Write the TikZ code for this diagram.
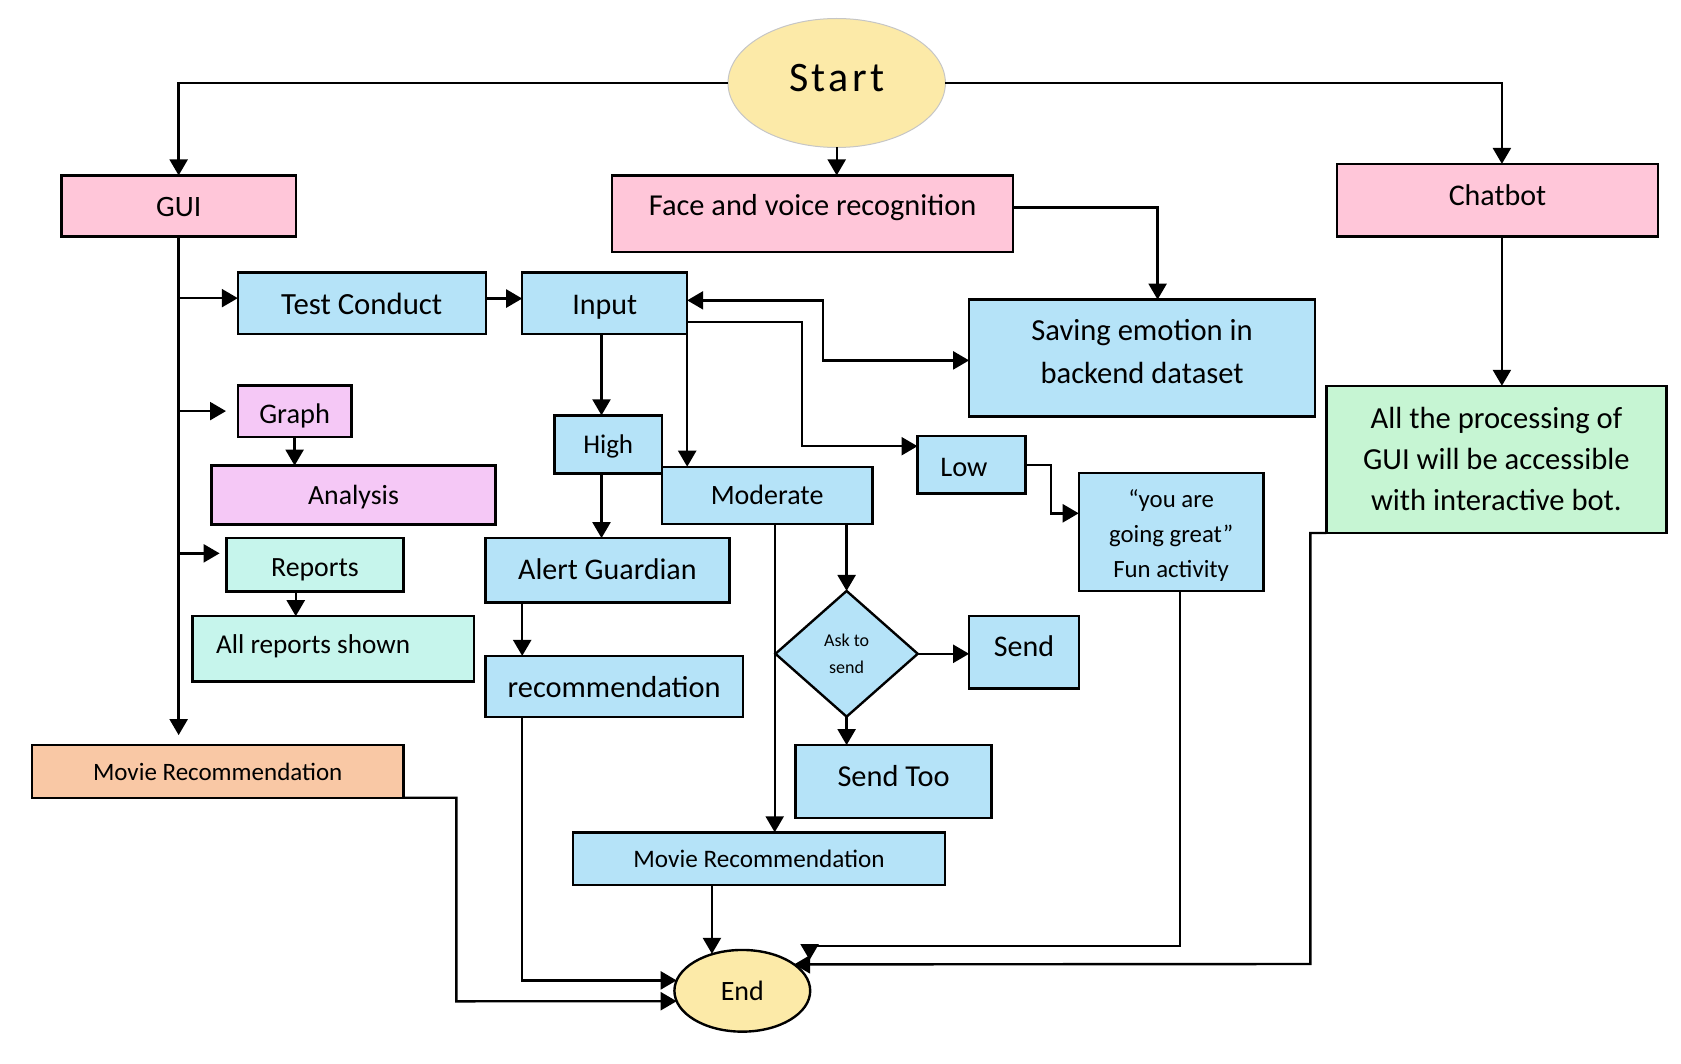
\documentclass[tikz,border=0pt]{standalone}
\usepackage{fontspec}
\setmainfont{Carlito}
\usetikzlibrary{arrows.meta,shapes.geometric}
\definecolor{cpink}{HTML}{FFC6D9}
\definecolor{cyel}{HTML}{FCEAA8}
\definecolor{cblue}{HTML}{B5E3F8}
\definecolor{clav}{HTML}{F5C8F6}
\definecolor{cmint}{HTML}{C6F5EC}
\definecolor{cpeach}{HTML}{F9C8A5}
\definecolor{cgreen}{HTML}{C6F5D3}
\newcommand\rtxt[2]{\raisebox{#1}[0pt][0pt]{#2}}
\newcommand\rtab[2]{\raisebox{#1}[0pt][0pt]{\begin{tabular}[t]{@{}c@{}}#2\end{tabular}}}
\tikzset{
  box/.style={draw, line width=1.2pt, inner sep=0pt, outer sep=0pt, align=center},
  arr/.style={line width=1.2pt, -{Triangle[length=8pt,width=9pt]}},
  arrtwo/.style={line width=1.2pt, {Triangle[length=8pt,width=9pt]}-{Triangle[length=8pt,width=9pt]}},
}
\begin{document}
\begin{tikzpicture}[x=0.5pt,y=-0.5pt]
\useasboundingbox (0,0) rectangle (1681,1064);
% terminals
\node[ellipse, draw=gray!45, line width=0.5pt, fill=cyel, minimum width=108.7pt, minimum height=64.5pt, inner sep=0pt, outer sep=0pt,
  font=\fontsize{21}{25}\selectfont\addfontfeature{LetterSpace=8}] (start) at (836.7,83) {\rtxt{-4.3pt}{Start}};
\node[ellipse, draw, line width=1.2pt, fill=cyel, minimum width=67.9pt, minimum height=40.85pt, inner sep=0pt, outer sep=0pt,
  font=\fontsize{14}{17}\selectfont] (end) at (742.3,990.8) {\rtxt{-4.6pt}{End}};
% top row
\node[box, fill=cpink, minimum width=117.05pt, minimum height=30.55pt, font=\fontsize{14.8}{17}\selectfont] (gui) at (178.65,205.95) {\rtxt{-5.4pt}{GUI}};
\node[box, fill=cpink, minimum width=200.4pt, minimum height=38.2pt, font=\fontsize{15.2}{18}\selectfont] (face) at (812.6,213.6) {\rtxt{-1.2pt}{Face and voice recognition}};
\node[box, fill=cpink, minimum width=160.45pt, minimum height=36.3pt, font=\fontsize{15}{18}\selectfont] (chat) at (1497.5,200.2) {\rtxt{-2.55pt}{Chatbot}};
% second level
\node[box, fill=cblue, minimum width=124pt, minimum height=30.85pt, font=\fontsize{15.4}{18}\selectfont] (test) at (361.8,303.35) {\rtxt{-5.6pt}{Test Conduct}};
\node[box, fill=cblue, minimum width=82.5pt, minimum height=30.85pt, font=\fontsize{15}{18}\selectfont] (input) at (604.7,303.35) {\rtxt{-5.6pt}{Input}};
\node[box, fill=cblue, minimum width=173pt, minimum height=58.35pt, font=\fontsize{15.3}{21.2}\selectfont] (sav) at (1142.1,357.95) {\rtab{8.5pt}{Saving emotion in\\backend dataset}};
\node[box, fill=cgreen, minimum width=170.1pt, minimum height=73.6pt, font=\fontsize{15.3}{20.35}\selectfont] (green) at (1496.4,459.4) {\rtab{15.3pt}{All the processing of\\GUI will be accessible\\with interactive bot.}};
% GUI branch
\node[box, fill=clav, minimum width=56.8pt, minimum height=25.6pt, font=\fontsize{14.2}{16}\selectfont] (graph) at (294.6,411.1) {\rtxt{-6pt}{Graph}};
\node[box, fill=clav, minimum width=141.9pt, minimum height=29.35pt, font=\fontsize{13.9}{16}\selectfont] (ana) at (353.5,494.95) {\rtxt{-4.8pt}{Analysis}};
\node[box, fill=cmint, minimum width=88.35pt, minimum height=26.65pt, font=\fontsize{13.9}{16}\selectfont] (reports) at (314.95,564.75) {\rtxt{-5.7pt}{Reports}};
\node[box, fill=cmint, minimum width=140.85pt, minimum height=32.7pt, font=\fontsize{13.6}{16}\selectfont] (allrep) at (333.15,648.9) {\rtxt{-2.3pt}{All reports shown}\hspace*{20pt}};
\node[box, fill=cpeach, minimum width=185.6pt, minimum height=26.3pt, font=\fontsize{12.5}{15}\selectfont] (movL) at (217.7,771.4) {\rtxt{-4.65pt}{Movie Recommendation}};
% input branch
\node[box, fill=cblue, minimum width=53.8pt, minimum height=29.05pt, font=\fontsize{13.5}{16}\selectfont] (high) at (608.2,444.35) {\rtxt{-4.7pt}{High}};
\node[box, fill=cblue, minimum width=105.2pt, minimum height=28.65pt, font=\fontsize{14}{17}\selectfont] (mod) at (767.1,495.35) {\rtxt{-4.6pt}{Moderate}};
\node[box, fill=cblue, minimum width=53.9pt, minimum height=28.75pt, font=\fontsize{14.2}{17}\selectfont] (low) at (971.4,464.75) {\rtxt{-6pt}{Low}\hspace*{7.5pt}};
\node[box, fill=cblue, minimum width=92.45pt, minimum height=59.25pt, font=\fontsize{12.4}{17.4}\selectfont] (fun) at (1171.15,531.95) {\rtab{12.1pt}{“you are\\going great”\\Fun activity}};
\node[box, fill=cblue, minimum width=122.1pt, minimum height=32.25pt, font=\fontsize{15}{18}\selectfont] (alert) at (607.4,570.35) {\rtxt{-4.6pt}{Alert Guardian}};
\node[box, fill=cblue, minimum width=128.8pt, minimum height=30.5pt, font=\fontsize{15.2}{18}\selectfont] (rec) at (614.1,686.4) {\rtxt{-5.6pt}{recommendation}};
\node[diamond, draw, line width=1.2pt, fill=cblue, minimum width=71.15pt, minimum height=62.85pt, inner sep=0pt, outer sep=0pt, align=center,
  font=\fontsize{9}{13.65}\selectfont] (dia) at (846.6,653.8) {\rtab{3.9pt}{Ask to\\send}};
\node[box, fill=cblue, minimum width=54.95pt, minimum height=36.25pt, font=\fontsize{15}{18}\selectfont] (send) at (1024.05,652.25) {\rtxt{-2.2pt}{Send}};
\node[box, fill=cblue, minimum width=98.05pt, minimum height=36.5pt, font=\fontsize{15.2}{18}\selectfont] (too) at (893.55,781.6) {\rtxt{-2.45pt}{Send Too}};
\node[box, fill=cblue, minimum width=185.95pt, minimum height=26.3pt, font=\fontsize{12.6}{15}\selectfont] (movB) at (759.05,858.6) {\rtxt{-4.65pt}{Movie Recommendation}};
% connectors from Start
\draw[arr] (start.west) -| (gui.north);
\draw[arr] (start.south) -- (start.south |- face.north);
\draw[arr] (start.east) -| ([xshift=2.2pt]chat.north);
\draw[arr] ([xshift=2.2pt]chat.south) -- ([xshift=2.2pt]chat.south |- green.north);
\draw[arr] ([yshift=2.95pt]face.east) -| ([xshift=7.75pt]sav.north);
% GUI trunk
\draw[arr, shorten >=5pt] (gui.south) -- (gui.south |- movL.north);
\coordinate (tW) at ([yshift=2.6pt]test.west);
\draw[arr] (gui.south |- tW) -- (tW);
\draw[arr, shorten >=5.9pt] (gui.south |- graph.west) -- (graph.west);
\coordinate (rA) at ([yshift=5.7pt]reports.west);
\draw[arr, shorten >=3.5pt] (gui.south |- rA) -- (rA);
\draw[arr] (graph.south) -- (graph.south |- ana.north);
\coordinate (rB) at ([xshift=-9.6pt]reports.south);
\draw[arr] (rB) -- (rB |- allrep.north);
% input branch
\coordinate (tE) at ([yshift=2.4pt]test.east);
\draw[arr] (tE) -- (tE -| input.west);
\coordinate (iH) at ([xshift=-1.6pt]input.south);
\draw[arr] (iH) -- (iH |- high.north);
\draw[arr] (iH |- high.south) -- (iH |- alert.north);
\draw[arr] (input.south east) -- (input.south east |- mod.north);
\coordinate (iS) at ([yshift=1.5pt]input.east);
\coordinate (k1) at (823.2,360.4);
\draw[arrtwo] (iS) -| (k1) -- (k1 -| sav.west);
\coordinate (iL) at ([yshift=-9.2pt]input.east);
\coordinate (k2) at (801.8,446.2);
\draw[arr] (iL) -| (k2) -- (k2 -| low.west);
\coordinate (k3) at (1051,513.3);
\draw[arr] (low.east) -| (k3) -- (k3 -| fun.west);
\coordinate (aR) at ([xshift=-42.6pt]alert.south);
\draw[arr] (aR) -- (aR |- rec.north);
\coordinate (mM) at ([xshift=3.8pt]mod.south);
\draw[arr] (mM) -- (mM |- movB.north);
\draw[arr] (dia.north |- mod.south) -- (dia.north);
\draw[arr] (dia.east) -- (dia.east -| send.west);
\draw[arr] (dia.south) -- (dia.south |- too.north);
% into End
\coordinate (mE) at ([xshift=-23.55pt]movB.south);
\draw[arr] (mE) -- (mE |- end.128.5);
\coordinate (rE) at ([xshift=-45.95pt]rec.south);
\draw[arr] (rE) |- (end.171.5);
\coordinate (c4) at (456.3,1001.3);
\draw[arr] (movL.south east) -| (c4) -- (end.189.1);
\coordinate (fS) at ([xshift=4.4pt]fun.south);
\coordinate (k5) at (809.6,945.7);
\coordinate (k6) at (809.6,960);
\draw[arr] (fS) |- (k5) -- (k6);
\coordinate (k7) at (1310.3,964);
\draw[arr] (green.south west) -| (k7) -- (end.27.5);
\end{tikzpicture}
\end{document}
